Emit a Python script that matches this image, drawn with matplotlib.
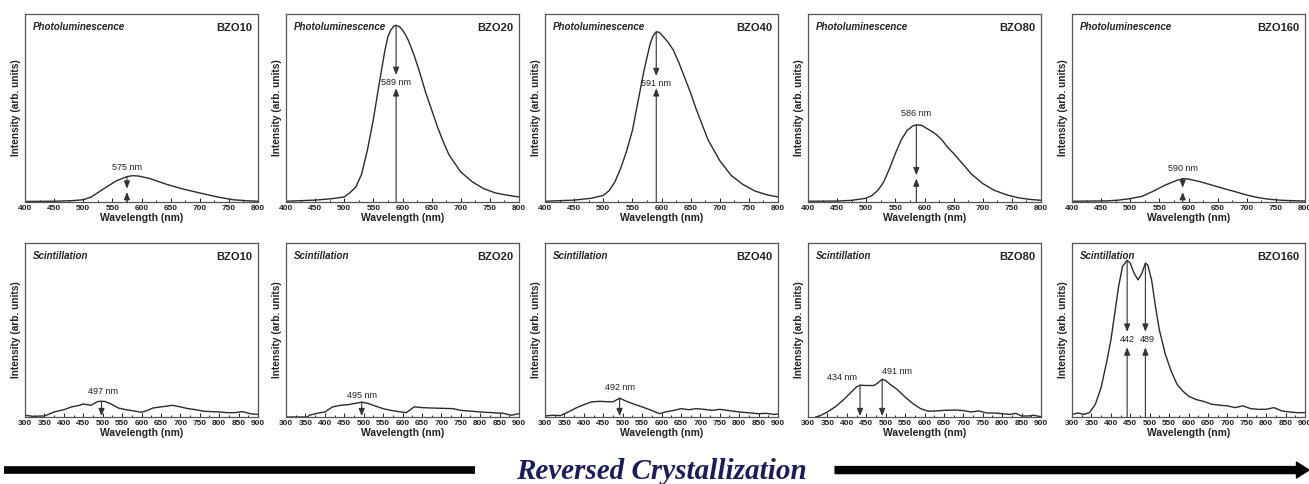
import matplotlib
matplotlib.use('Agg')
import matplotlib.pyplot as plt
from matplotlib.ticker import MultipleLocator

plt.rcParams['font.family'] = ['Liberation Sans', 'DejaVu Sans']

samples = ['BZO10', 'BZO20', 'BZO40', 'BZO80', 'BZO160']

# --- photoluminescence spectra (arb. units 0..1) ---
pl_x_bzo10 = [400, 450, 480, 500, 514, 530, 540, 557, 575, 585, 595, 614, 643, 670, 700, 730, 757, 780, 800]
pl_y_bzo10 = [0.003, 0.004, 0.007, 0.012, 0.027, 0.060, 0.080, 0.113, 0.135, 0.140, 0.138, 0.125, 0.094, 0.070,
              0.048, 0.027, 0.012, 0.007, 0.004]

pl_x_bzo20 = [400, 450, 480, 500, 510, 520, 530, 540, 550, 560, 570, 575, 580, 585, 589, 595, 600, 605, 610, 620,
              630, 640, 650, 660, 670, 680, 700, 720, 740, 760, 780, 800]
pl_y_bzo20 = [0.004, 0.010, 0.018, 0.027, 0.050, 0.080, 0.150, 0.280, 0.440, 0.630, 0.810, 0.880, 0.915, 0.935,
              0.940, 0.932, 0.915, 0.890, 0.860, 0.780, 0.685, 0.580, 0.490, 0.400, 0.320, 0.250, 0.160, 0.107,
              0.070, 0.048, 0.036, 0.027]

pl_x_bzo40 = [400, 450, 480, 500, 510, 520, 530, 540, 550, 560, 570, 580, 585, 591, 596, 600, 610, 620, 630, 640,
              650, 660, 670, 680, 700, 720, 740, 760, 780, 800]
pl_y_bzo40 = [0.004, 0.010, 0.020, 0.035, 0.060, 0.107, 0.180, 0.270, 0.380, 0.540, 0.700, 0.835, 0.880, 0.905,
              0.903, 0.890, 0.855, 0.810, 0.740, 0.660, 0.580, 0.490, 0.410, 0.330, 0.220, 0.140, 0.093, 0.059,
              0.039, 0.027]

pl_x_bzo80 = [400, 450, 475, 500, 510, 520, 530, 540, 550, 560, 570, 580, 586, 595, 610, 620, 630, 640, 650, 660,
              670, 680, 700, 720, 740, 760, 780, 800]
pl_y_bzo80 = [0.004, 0.005, 0.009, 0.020, 0.035, 0.062, 0.107, 0.178, 0.258, 0.330, 0.380, 0.405, 0.410, 0.408,
              0.380, 0.360, 0.330, 0.290, 0.258, 0.222, 0.187, 0.150, 0.098, 0.062, 0.039, 0.023, 0.014, 0.009]

pl_x_bzo160 = [400, 460, 480, 500, 520, 540, 560, 580, 590, 600, 620, 640, 660, 680, 700, 720, 740, 760, 800]
pl_y_bzo160 = [0.004, 0.006, 0.010, 0.018, 0.030, 0.058, 0.090, 0.115, 0.124, 0.122, 0.108, 0.090, 0.072, 0.055,
               0.037, 0.023, 0.014, 0.009, 0.005]

# --- scintillation spectra ---
sc_x_bzo10 = [300, 320, 350, 360, 375, 400, 420, 440, 450, 470, 480, 490, 505, 520, 540, 560, 580, 600, 615, 630,
              650, 680, 700, 720, 740, 760, 780, 800, 820, 840, 860, 880, 900]
sc_y_bzo10 = [0.010, 0.004, 0.006, 0.015, 0.029, 0.042, 0.058, 0.067, 0.075, 0.067, 0.081, 0.090, 0.090, 0.077,
              0.052, 0.042, 0.035, 0.027, 0.038, 0.052, 0.058, 0.067, 0.058, 0.048, 0.042, 0.033, 0.031, 0.029,
              0.025, 0.025, 0.031, 0.019, 0.015]

sc_x_bzo20 = [300, 355, 360, 380, 400, 420, 440, 460, 480, 495, 510, 530, 550, 570, 590, 610, 630, 650, 670, 700,
              730, 750, 780, 800, 830, 860, 880, 900]
sc_y_bzo20 = [0.000, 0.000, 0.010, 0.021, 0.029, 0.058, 0.067, 0.071, 0.079, 0.085, 0.079, 0.063, 0.048, 0.038,
              0.031, 0.025, 0.058, 0.054, 0.052, 0.050, 0.048, 0.038, 0.033, 0.029, 0.025, 0.021, 0.010, 0.019]

sc_x_bzo40 = [300, 320, 340, 360, 380, 400, 420, 440, 460, 475, 492, 510, 530, 550, 570, 595, 610, 630, 650, 670,
              690, 710, 730, 750, 770, 800, 820, 850, 870, 890, 900]
sc_y_bzo40 = [0.006, 0.010, 0.008, 0.029, 0.052, 0.071, 0.087, 0.090, 0.088, 0.087, 0.108, 0.090, 0.073, 0.058,
              0.042, 0.019, 0.029, 0.037, 0.048, 0.042, 0.048, 0.044, 0.038, 0.044, 0.038, 0.029, 0.025, 0.019,
              0.021, 0.015, 0.017]

sc_x_bzo80 = [320, 330, 350, 370, 390, 410, 425, 434, 450, 470, 480, 491, 500, 510, 530, 550, 570, 590, 610, 630,
              650, 680, 700, 720, 740, 760, 780, 800, 820, 835, 850, 870, 880, 900]
sc_y_bzo80 = [0.000, 0.006, 0.029, 0.058, 0.096, 0.140, 0.173, 0.183, 0.181, 0.181, 0.196, 0.217, 0.210, 0.190,
              0.158, 0.115, 0.077, 0.048, 0.033, 0.035, 0.038, 0.040, 0.037, 0.029, 0.035, 0.023, 0.023, 0.019,
              0.015, 0.021, 0.006, 0.006, 0.010, 0.002]

sc_x_bzo160 = [300, 315, 330, 345, 360, 375, 390, 400, 410, 420, 430, 442, 450, 460, 470, 480, 489, 495, 505, 515,
               525, 540, 555, 570, 585, 600, 620, 640, 660, 680, 700, 720, 740, 760, 780, 800, 820, 840, 860, 880,
               900]
sc_y_bzo160 = [0.015, 0.023, 0.015, 0.025, 0.073, 0.170, 0.324, 0.440, 0.595, 0.750, 0.865, 0.900, 0.884, 0.826,
               0.788, 0.826, 0.884, 0.874, 0.788, 0.633, 0.500, 0.363, 0.266, 0.190, 0.150, 0.120, 0.100, 0.089,
               0.073, 0.068, 0.064, 0.054, 0.064, 0.048, 0.044, 0.044, 0.054, 0.035, 0.029, 0.025, 0.025]

pl_x = [pl_x_bzo10, pl_x_bzo20, pl_x_bzo40, pl_x_bzo80, pl_x_bzo160]
pl_y = [pl_y_bzo10, pl_y_bzo20, pl_y_bzo40, pl_y_bzo80, pl_y_bzo160]
sc_x = [sc_x_bzo10, sc_x_bzo20, sc_x_bzo40, sc_x_bzo80, sc_x_bzo160]
sc_y = [sc_y_bzo10, sc_y_bzo20, sc_y_bzo40, sc_y_bzo80, sc_y_bzo160]

# peak markers
pl_peak_nm = [575, 589, 591, 586, 590]
pl_peak_y = [0.136, 0.94, 0.905, 0.41, 0.124]
pl_arrow_ends = [(0.071, 0.053), (0.676, 0.605), (0.67, 0.605), (0.142, 0.125), (0.076, 0.053)]
pl_text_y = [0.185, 0.635, 0.63, 0.47, 0.18]

sc_peak_nm = [[497], [495], [492], [434, 491], [442, 489]]
sc_peak_y = [[0.09], [0.085], [0.108], [0.183, 0.217], [0.90, 0.884]]
sc_text = [['497 nm'], ['495 nm'], ['492 nm'], ['434 nm', '491 nm'], ['442', '489']]
sc_text_xy = [[(500, 0.148)], [(495, 0.125)], [(492, 0.167)], [(387, 0.225), (528, 0.26)],
              [(443, 0.445), (493, 0.445)]]
sc160_arrow_ends = (0.49, 0.40)

W, H = 1309, 484
lefts = [25, 286, 545, 808, 1072]
ax_w = 233
line_c = '#2b2b2b'
arrow_kw = dict(arrowstyle='-|>,head_length=0.45,head_width=0.18', lw=0.8, color='#333333',
                shrinkA=0, shrinkB=0, mutation_scale=10)


def style_axis(ax, xmin, xmax, tag, sample):
    ax.set_xlim(xmin, xmax)
    ax.set_ylim(0, 1)
    ax.set_yticks([])
    ax.xaxis.set_major_locator(MultipleLocator(50))
    ax.xaxis.set_minor_locator(MultipleLocator(25))
    ax.tick_params(axis='x', which='major', direction='in', length=3, width=0.7, labelsize=6, pad=2,
                   colors='#222222')
    ax.tick_params(axis='x', which='minor', direction='in', length=1.5, width=0.6)
    for lab in ax.get_xticklabels():
        lab.set_fontweight('bold')
    for sp in ax.spines.values():
        sp.set_color('#555555')
        sp.set_linewidth(0.9)
    ax.set_xlabel('Wavelength (nm)', fontsize=7.5, fontweight='bold', labelpad=1, color='#222222')
    ax.set_ylabel('Intensity (arb. units)', fontsize=7.3, fontweight='bold', labelpad=3, color='#222222')
    ax.text(0.035, 0.955, tag, transform=ax.transAxes, fontsize=7, fontweight='bold', style='italic',
            va='top', ha='left', color='#222222')
    ax.text(0.975, 0.95, sample, transform=ax.transAxes, fontsize=8, fontweight='bold',
            va='top', ha='right', color='#222222')


fig = plt.figure(figsize=(W / 100, H / 100), dpi=100)

# top row: photoluminescence
for i, s in enumerate(samples):
    ax = fig.add_axes([lefts[i] / W, 282 / H, ax_w / W, 188 / H])
    ax.plot(pl_x[i], pl_y[i], color=line_c, lw=1.0)
    style_axis(ax, 400, 800, 'Photoluminescence', s)
    x0 = pl_peak_nm[i]
    down_end, up_end = pl_arrow_ends[i]
    ax.annotate('', xy=(x0, down_end), xytext=(x0, pl_peak_y[i]), arrowprops=arrow_kw)
    ax.annotate('', xy=(x0, up_end), xytext=(x0, 0), arrowprops=arrow_kw)
    ax.text(x0, pl_text_y[i], f'{x0} nm', fontsize=6.5, ha='center', va='center', color='#222222')

# bottom row: scintillation
for i, s in enumerate(samples):
    ax = fig.add_axes([lefts[i] / W, 67 / H, ax_w / W, 174 / H])
    ax.plot(sc_x[i], sc_y[i], color=line_c, lw=1.0)
    style_axis(ax, 300, 900, 'Scintillation', s)
    for x0, yp, txt, (tx, ty) in zip(sc_peak_nm[i], sc_peak_y[i], sc_text[i], sc_text_xy[i]):
        if s == 'BZO160':
            ax.annotate('', xy=(x0, sc160_arrow_ends[0]), xytext=(x0, yp), arrowprops=arrow_kw)
            ax.annotate('', xy=(x0, sc160_arrow_ends[1]), xytext=(x0, 0), arrowprops=arrow_kw)
        else:
            ax.annotate('', xy=(x0, 0.005), xytext=(x0, yp), arrowprops=arrow_kw)
        ax.text(tx, ty, txt, fontsize=6.5, ha='center', va='center', color='#222222')

# bottom banner with arrow
band = fig.add_axes([0, 0, 1, 0.06])
band.set_xlim(0, 1)
band.set_ylim(0, 1)
band.axis('off')
band.plot([0.003, 0.363], [0.48, 0.48], color='black', lw=5.5, solid_capstyle='butt')
band.annotate('', xy=(1.0, 0.48), xytext=(0.638, 0.48),
              arrowprops=dict(arrowstyle='simple,head_width=0.95,head_length=0.75,tail_width=0.42',
                              mutation_scale=12, fc='black', ec='black', shrinkA=0, shrinkB=0))
band.text(0.505, 0.42, 'Reversed Crystallization', fontsize=21, fontweight='bold', style='italic',
          family=['Liberation Serif', 'DejaVu Serif'], color='#1c1c5c', ha='center', va='center')

fig.savefig('out.png', dpi=100)
